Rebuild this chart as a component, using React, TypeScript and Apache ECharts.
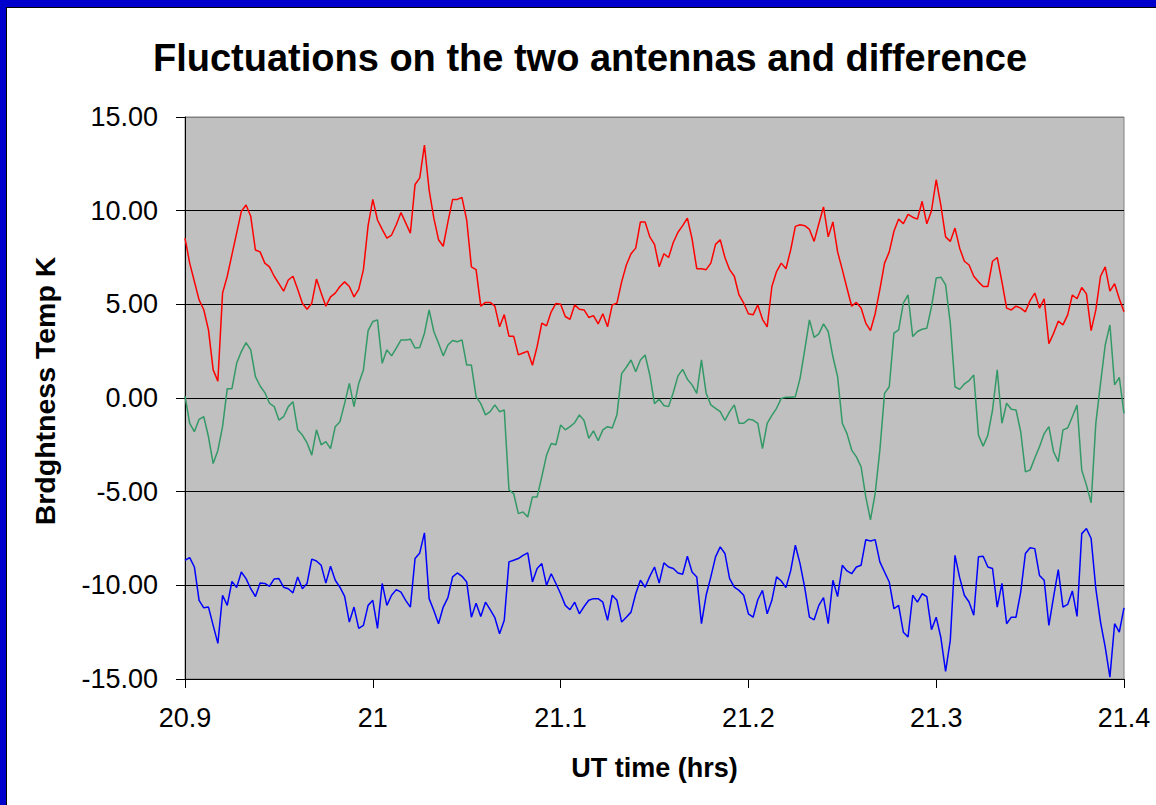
import React, { useEffect, useRef } from "react";
import * as echarts from "echarts";

const TITLE = "Fluctuations on the two antennas and difference";
const X_NAME = "UT time (hrs)";
const Y_NAME = "Brdghtness Temp K";
const T_START = 20.9;
const T_STEP = 0.0025;

const red: number[] = [
  8.54, 7.2, 6.22, 5.24, 4.71, 3.64, 1.5, 0.9, 5.6, 6.5, 7.65, 8.8, 9.96, 10.3, 9.7, 7.9, 7.8, 7.2, 7.0, 6.5, 6.1, 5.7, 6.3, 6.5, 5.8, 5.06, 4.74, 5.06, 6.35, 5.6, 4.9, 5.4, 5.6, 5.95, 6.2, 5.95, 5.4, 5.8, 6.85, 9.2, 10.6,
  9.5, 9.0, 8.54, 8.7, 9.25, 9.9, 9.35, 8.8, 11.4, 11.75, 13.5, 11.1, 9.6, 8.45, 8.1, 9.4, 10.6, 10.6, 10.7, 9.5, 7.0, 6.85, 4.9, 5.1, 5.1, 4.9, 3.8, 4.45, 3.3, 3.3, 2.3, 2.4, 2.5, 1.75, 2.75, 4.0, 3.85, 4.6, 5.05, 5.0,
  4.35, 4.2, 4.97, 4.74, 4.7, 4.3, 4.4, 3.96, 4.5, 3.8, 4.97, 5.06, 6.2, 7.1, 7.7, 8.0, 9.4, 9.4, 8.6, 8.2, 7.0, 7.7, 7.5, 8.3, 8.85, 9.2, 9.6, 8.5, 6.9, 6.9, 6.85, 7.2, 8.2, 8.45, 7.5, 6.85, 6.5, 5.5, 5.06, 4.5,
  4.44, 4.97, 4.2, 3.8, 5.95, 6.75, 7.2, 6.9, 7.9, 9.16, 9.25, 9.2, 9.0, 8.36, 9.3, 10.2, 8.6, 9.4, 7.8, 6.85, 5.86, 4.9, 5.1, 4.8, 4.0, 3.6, 4.5, 5.8, 7.2, 7.8, 8.9, 9.55, 9.3, 9.8, 9.65, 9.55, 10.5, 9.3, 10.0, 11.65,
  10.27, 8.6, 8.36, 9.07, 8.0, 7.3, 7.1, 6.5, 6.2, 5.95, 5.95, 7.3, 7.5, 6.2, 4.8, 4.7, 4.9, 4.8, 4.6, 5.2, 5.6, 4.8, 5.3, 2.9, 3.45, 4.1, 3.9, 4.44, 5.5, 5.3, 5.9, 5.56, 3.6, 4.7, 6.5, 7.0, 5.7, 6.1, 5.3, 4.6,
];

const green: number[] = [
  0.1, -1.35, -1.8, -1.14, -1.0, -2.07, -3.5, -2.8, -1.53, 0.5, 0.5, 1.85, 2.48, 2.96, 2.57, 1.14, 0.64, 0.29, -0.28, -0.46, -1.18, -1.0, -0.46, -0.2, -1.7, -1.98, -2.4, -3.05, -1.7, -2.5, -2.33, -2.7, -1.53, -1.27, -0.29, 0.78, -0.46, 0.78, 1.5, 3.6, 4.08,
  4.17, 1.85, 2.57, 2.25, 2.66, 3.1, 3.1, 3.14, 2.67, 2.7, 3.46, 4.7, 3.55, 2.92, 2.25, 2.83, 3.07, 3.0, 3.1, 1.76, 1.76, 0.07, -0.3, -0.9, -0.73, -0.37, -0.73, -0.64, -4.9, -5.1, -6.17, -6.08, -6.35, -5.28, -5.28, -4.2, -3.06, -2.43, -2.5, -1.44,
  -1.7, -1.53, -1.32, -0.9, -1.2, -2.15, -1.75, -2.28, -1.7, -1.53, -1.6, -0.9, 1.3, 1.64, 2.03, 1.4, 2.03, 2.3, 1.23, -0.3, -0.07, -0.4, -0.46, 0.29, 1.18, 1.53, 1.0, 0.7, 0.25, 2.03, 0.25, -0.37, -0.55, -0.73, -1.2, -0.73, -0.37, -1.35, -1.35, -1.14,
  -1.18, -1.35, -2.7, -1.35, -0.93, -0.55, -0.02, 0.04, 0.04, 0.07, 1.05, 2.57, 4.17, 3.24, 3.42, 3.96, 3.55, 2.2, 1.14, -1.35, -1.9, -2.78, -3.14, -3.67, -5.28, -6.5, -5.1, -2.78, 0.25, 0.6, 3.46, 3.64, 5.06, 5.5, 3.28, 3.55, 3.67, 3.72, 4.88, 6.4,
  6.45, 6.04, 4.0, 0.6, 0.46, 0.75, 0.93, 1.23, -1.98, -2.57, -1.98, -0.64, 1.5, -1.35, -0.28, -0.6, -0.64, -1.8, -3.94, -3.85, -3.2, -2.6, -1.9, -1.53, -2.87, -3.4, -1.7, -1.6, -1.0, -0.37, -3.85, -4.65, -5.6, -1.35, 0.78, 2.83, 3.9, 0.7, 1.1, -0.82,
];

const blue: number[] = [
  -8.66, -8.52, -9.02, -10.8, -11.2, -11.16, -12.14, -13.1, -10.53, -11.07, -9.79, -10.12, -9.29, -9.64, -10.18, -10.6, -9.88, -9.9, -10.05, -9.66, -9.64, -10.1, -10.18, -10.4, -9.55, -10.18, -9.9, -8.6, -8.7, -8.93, -9.88, -8.98, -9.73, -10.1, -10.59, -11.96, -11.16, -12.3, -12.14, -11.07, -10.8,
  -12.3, -9.9, -11.07, -10.53, -10.23, -10.36, -10.8, -11.16, -8.57, -8.27, -7.2, -10.71, -11.34, -12.05, -11.16, -10.66, -9.55, -9.34, -9.52, -9.82, -11.7, -10.95, -11.66, -10.9, -11.3, -11.73, -12.58, -11.87, -8.75, -8.66, -8.57, -8.4, -8.27, -9.82, -9.1, -8.84, -10.0, -9.38, -9.9, -10.45,
  -11.07, -11.3, -10.9, -11.52, -11.13, -10.8, -10.71, -10.71, -10.9, -11.87, -10.53, -10.8, -11.96, -11.7, -11.43, -10.45, -9.73, -10.1, -9.52, -9.02, -9.88, -8.8, -9.02, -9.1, -9.34, -9.41, -8.45, -9.29, -9.55, -12.05, -10.53, -9.55, -8.48, -7.95, -8.3, -9.64, -10.1, -10.27, -10.53, -11.52,
  -11.7, -10.77, -10.27, -11.52, -10.8, -9.55, -9.77, -10.12, -9.23, -7.86, -8.84, -10.12, -11.7, -11.84, -11.07, -10.66, -12.05, -9.73, -10.6, -8.93, -9.23, -9.38, -9.02, -8.93, -7.56, -7.63, -7.56, -8.75, -9.29, -9.82, -11.25, -11.07, -12.5, -12.76, -10.53, -10.9, -10.45, -10.6, -12.37, -11.7,
  -12.8, -14.6, -12.94, -8.4, -9.59, -10.53, -10.89, -11.6, -8.48, -8.45, -9.02, -9.1, -11.16, -9.9, -12.05, -11.7, -11.7, -10.36, -8.3, -7.99, -8.04, -9.47, -9.73, -12.14, -10.62, -9.16, -11.16, -11.02, -10.3, -11.66, -7.24, -6.97, -7.5, -10.18, -11.96, -13.3, -14.9, -12.05, -12.5, -11.2,
];

const FONT = "'Liberation Sans', Arial, Helvetica, sans-serif";

function pairs(vals: number[]): [number, number][] {
  return vals.map((v, i) => [T_START + i * T_STEP, v]);
}

export default function App() {
  const ref = useRef<HTMLDivElement>(null);
  useEffect(() => {
    if (!ref.current) return;
    const chart = echarts.init(ref.current, undefined, { renderer: "svg" });
    const lineSeries = (name: string, vals: number[], color: string) => ({
      name,
      type: "line",
      data: pairs(vals),
      showSymbol: false,
      symbol: "none",
      lineStyle: { color, width: 1.5 },
      itemStyle: { color },
      z: 3,
    });
    chart.setOption({
      animation: false,
      backgroundColor: "#ffffff",
      textStyle: { fontFamily: FONT },
      graphic: [
        { type: "rect", shape: { x: 0, y: 0, width: 1156, height: 7 }, style: { fill: "#0000CC" } },
        { type: "rect", shape: { x: 0, y: 0, width: 6, height: 805 }, style: { fill: "#0000CC" } },
        { type: "line", shape: { x1: 6, y1: 7.5, x2: 1156, y2: 7.5 }, style: { stroke: "#000", lineWidth: 1 } },
        { type: "line", shape: { x1: 6.5, y1: 7, x2: 6.5, y2: 805 }, style: { stroke: "#000", lineWidth: 1 } },
        {
          type: "text",
          x: 590,
          y: 58,
          style: {
            text: TITLE,
            fontFamily: FONT,
            fontWeight: "bold",
            fontSize: 38,
            fill: "#000",
            align: "center",
            verticalAlign: "middle",
          },
        },
      ],
      grid: {
        left: 185,
        top: 117,
        width: 939,
        height: 562,
        show: true,
        backgroundColor: "#C0C0C0",
        borderColor: "#808080",
        borderWidth: 1,
        containLabel: false,
      },
      xAxis: {
        type: "value",
        min: 20.9,
        max: 21.4,
        interval: 0.1,
        name: X_NAME,
        nameLocation: "middle",
        nameGap: 75,
        nameTextStyle: { fontFamily: FONT, fontWeight: "bold", fontSize: 27, color: "#000" },
        axisLine: { show: true, onZero: false, lineStyle: { color: "#000", width: 1 } },
        axisTick: { show: true, inside: false, length: 9, lineStyle: { color: "#000" } },
        axisLabel: {
          fontFamily: FONT,
          fontSize: 27,
          color: "#000",
          margin: 25,
          formatter: (v: number) => String(parseFloat(v.toFixed(1))),
        },
        splitLine: { show: false },
      },
      yAxis: {
        type: "value",
        min: -15,
        max: 15,
        interval: 5,
        name: Y_NAME,
        nameLocation: "middle",
        nameGap: 126,
        nameRotate: 90,
        nameTextStyle: { fontFamily: FONT, fontWeight: "bold", fontSize: 28.5, color: "#000", padding: [0, 0, 0, 14] },
        axisLine: { show: true, onZero: false, lineStyle: { color: "#000", width: 1 } },
        axisTick: { show: true, inside: false, length: 9, lineStyle: { color: "#000" } },
        axisLabel: {
          fontFamily: FONT,
          fontSize: 27,
          color: "#000",
          margin: 27,
          formatter: (v: number) => v.toFixed(2),
        },
        splitLine: {
          show: true,
          lineStyle: { color: ["#000", "#000", "#000", "#000", "#000", "#000", "#808080"], width: 1 },
        },
      },
      series: [
        lineSeries("Antenna 1", red, "#FF0000"),
        lineSeries("Antenna 2", green, "#339966"),
        lineSeries("Difference", blue, "#0000FF"),
      ],
    });
    return () => chart.dispose();
  }, []);
  return (
    <div
      ref={ref}
      style={{ position: "fixed", left: 0, top: 0, width: 1156, height: 805, background: "#fff" }}
    />
  );
}
